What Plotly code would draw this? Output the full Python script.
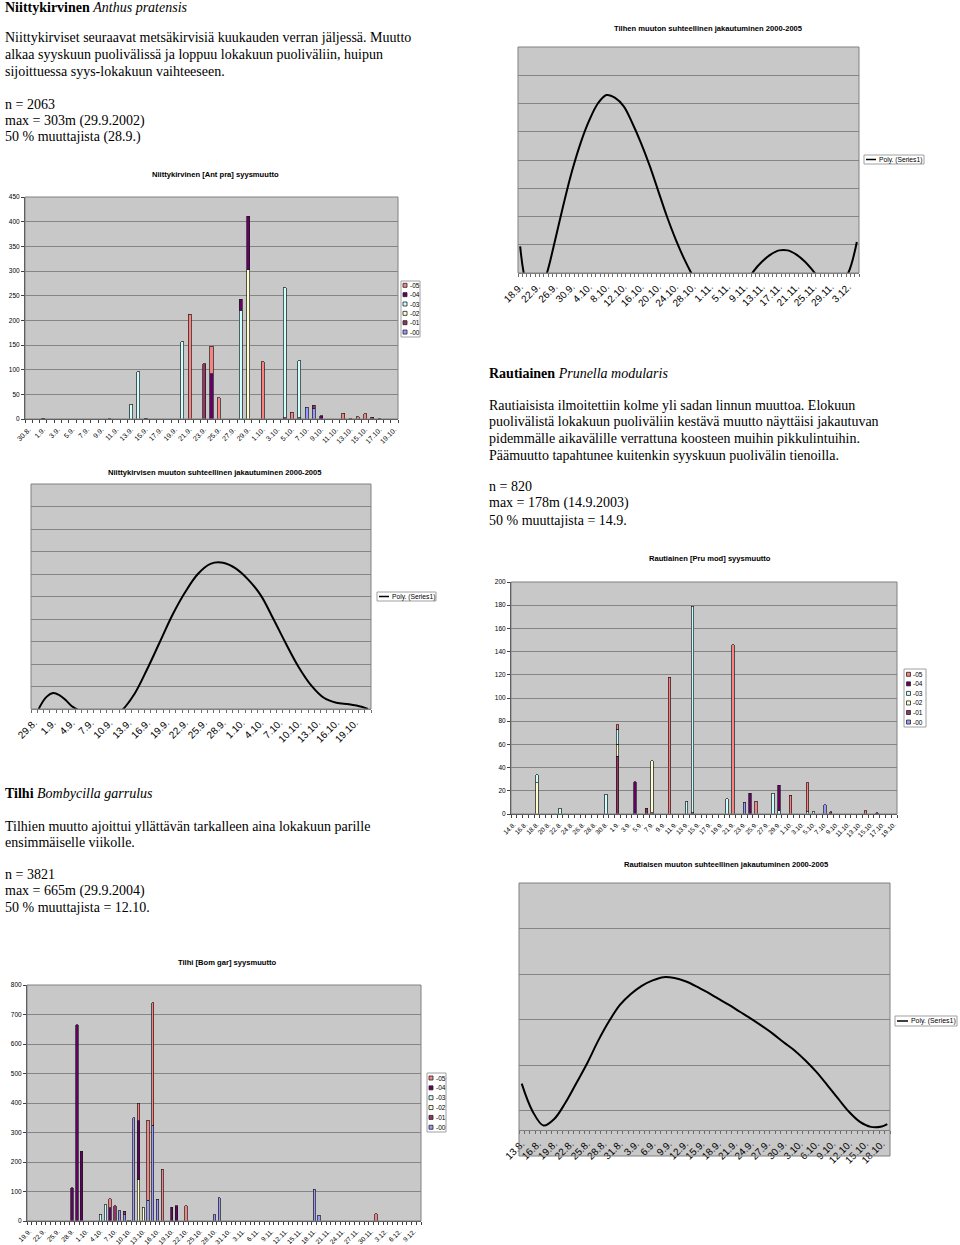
import datetime as dt
import plotly.graph_objects as go

W, H = 960, 1245


def day_labels(day, month, n):
    start = dt.date(2005, month, day)
    out = []
    for i in range(n):
        d = start + dt.timedelta(days=i)
        out.append(f"{d.day}.{d.month}.")
    return out


# ---------------- categories (daily) ----------------
ANT_DAYS = day_labels(30, 8, 51)      # 30.8. - 19.10.
PRU_DAYS = day_labels(14, 8, 67)      # 14.8. - 19.10.
BOM_DAYS = day_labels(19, 9, 83)      # 19.9. - 10.12.
BOM_REL_DAYS = day_labels(18, 9, 79)  # 18.9. - 5.12.
ANT_REL_DAYS = day_labels(29, 8, 54)  # 29.8. - 21.10.
PRU_REL_DAYS = day_labels(13, 8, 68)  # 13.8. - 19.10.

YEARS = ["-00", "-01", "-02", "-03", "-04", "-05"]
YEAR_COLORS = ["#9999FF", "#993366", "#FFFFCC", "#CCFFFF", "#660066", "#FF8080"]

# ---------------- Niittykirvinen [Ant pra] daily counts ----------------
ANT_00 = {"7.10.": 24, "8.10.": 22}
ANT_01 = {"23.9.": 112, "4.10.": 3, "6.10.": 3, "8.10.": 6, "16.10.": 4}
ANT_02 = {"29.9.": 303}
ANT_03 = {"13.9.": 30, "14.9.": 96, "20.9.": 157, "28.9.": 220, "4.10.": 263, "6.10.": 115}
ANT_04 = {"1.9.": 2, "10.9.": 1, "15.9.": 2, "24.9.": 92, "28.9.": 23, "29.9.": 108,
          "9.10.": 7, "13.10.": 1, "17.10.": 1}
ANT_05 = {"21.9.": 212, "24.9.": 55, "25.9.": 43, "1.10.": 116, "5.10.": 14, "12.10.": 12,
          "14.10.": 5, "15.10.": 11}

# ---------------- Rautiainen [Pru mod] daily counts ----------------
PRU_00 = {"23.9.": 10, "7.10.": 8}
PRU_01 = {"1.9.": 50, "6.9.": 5, "7.9.": 1, "14.9.": 1, "8.10.": 2}
PRU_02 = {"18.8.": 27, "1.9.": 10, "7.9.": 45}
PRU_03 = {"18.8.": 7, "22.8.": 5, "30.8.": 17, "1.9.": 13, "13.9.": 11, "14.9.": 178,
          "20.9.": 13, "28.9.": 18, "29.9.": 3, "4.10.": 2, "5.10.": 2}
PRU_04 = {"4.9.": 28, "24.9.": 18, "29.9.": 22, "16.10.": 1}
PRU_05 = {"1.9.": 4, "10.9.": 118, "21.9.": 146, "25.9.": 11, "1.10.": 16, "4.10.": 25,
          "14.10.": 3}

# ---------------- Tilhi [Bom gar] daily counts ----------------
BOM_00 = {"8.10.": 35, "9.10.": 22, "11.10.": 350, "14.10.": 70, "15.10.": 325, "16.10.": 73,
          "28.10.": 22, "29.10.": 78, "18.11.": 107, "19.11.": 20}
BOM_01 = {"7.10.": 52, "9.10.": 11}
BOM_02 = {"12.10.": 140, "13.10.": 47}
BOM_03 = {"4.10.": 23, "5.10.": 55, "10.10.": 2}
BOM_04 = {"28.9.": 113, "29.9.": 665, "30.9.": 237, "6.10.": 45, "12.10.": 200,
          "19.10.": 47, "20.10.": 52}
BOM_05 = {"6.10.": 30, "12.10.": 60, "14.10.": 272, "15.10.": 415, "17.10.": 176,
          "22.10.": 52, "1.12.": 25}

# ---------------- polynomial trend curves ----------------
BOM_REL_X = ["18.9.", "20.9.", "22.9.", "24.9.", "26.9.", "28.9.", "30.9.", "2.10.", "4.10.",
             "6.10.", "8.10.", "10.10.", "12.10.", "14.10.", "16.10.", "18.10.", "20.10.",
             "22.10.", "24.10.", "26.10.", "28.10.", "30.10.", "1.11.", "3.11.", "5.11.",
             "7.11.", "9.11.", "11.11.", "13.11.", "15.11.", "17.11.", "19.11.", "21.11.",
             "23.11.", "25.11.", "27.11.", "29.11.", "1.12.", "3.12.", "5.12."]
BOM_REL_Y = [0.94, -0.6, -0.8, -0.1, 1.1, 2.4, 3.6, 4.6, 5.4, 6.0, 6.3, 6.2, 5.9, 5.3, 4.6,
             3.8, 2.9, 2.0, 1.2, 0.5, -0.1, -0.6, -0.9, -1.1, -1.1, -0.9, -0.5, 0.05, 0.4,
             0.65, 0.8, 0.8, 0.65, 0.4, 0.05, -0.3, -0.5, -0.4, 0.0, 1.1]

ANT_REL_X = ["29.8.", "30.8.", "31.8.", "1.9.", "2.9.", "3.9.", "4.9.", "5.9.", "6.9.", "8.9.",
             "10.9.", "12.9.", "14.9.", "16.9.", "18.9.", "20.9.", "22.9.", "24.9.", "26.9.",
             "28.9.", "30.9.", "2.10.", "4.10.", "6.10.", "8.10.", "10.10.", "12.10.",
             "14.10.", "16.10.", "18.10.", "20.10.", "21.10."]
ANT_REL_Y = [-0.5, 0.15, 0.55, 0.71, 0.62, 0.4, 0.12, -0.05, -0.3, -0.6, -0.5, -0.05, 0.7,
             1.8, 3.0, 4.2, 5.2, 6.0, 6.45, 6.5, 6.25, 5.75, 5.05, 4.0, 2.9, 1.87, 1.05, 0.5,
             0.28, 0.21, 0.1, 0.0]

PRU_REL_X = ["13.8.", "15.8.", "17.8.", "19.8.", "21.8.", "23.8.", "25.8.", "27.8.", "29.8.",
             "31.8.", "2.9.", "4.9.", "6.9.", "8.9.", "10.9.", "12.9.", "14.9.", "16.9.",
             "18.9.", "20.9.", "22.9.", "24.9.", "26.9.", "28.9.", "30.9.", "2.10.", "4.10.",
             "6.10.", "8.10.", "10.10.", "12.10.", "14.10.", "16.10.", "18.10.", "19.10."]
PRU_REL_Y = [0.59, -0.02, -0.33, -0.18, 0.17, 0.6, 1.04, 1.53, 1.96, 2.32, 2.56, 2.74, 2.86,
             2.93, 2.91, 2.84, 2.73, 2.6, 2.46, 2.32, 2.17, 2.02, 1.86, 1.69, 1.5, 1.32, 1.1,
             0.85, 0.56, 0.26, -0.03, -0.25, -0.36, -0.35, -0.3]

# ---------------- texts ----------------
TEXT_ANT = [
    (7, "<b>Niittykirvinen</b> <i>Anthus pratensis</i>"),
    (38, "Niittykirviset seuraavat metsäkirvisiä kuukauden verran jäljessä. Muutto"),
    (55, "alkaa syyskuun puolivälissä ja loppuu lokakuun puoliväliin, huipun"),
    (71, "sijoittuessa syys-lokakuun vaihteeseen."),
    (104, "n = 2063"),
    (121, "max = 303m (29.9.2002)"),
    (137, "50 % muuttajista (28.9.)"),
]
TEXT_PRU = [
    (373, "<b>Rautiainen</b> <i>Prunella modularis</i>"),
    (406, "Rautiaisista ilmoitettiin kolme yli sadan linnun muuttoa. Elokuun"),
    (422, "puolivälistä lokakuun puoliväliin kestävä muutto näyttäisi jakautuvan"),
    (438, "pidemmälle aikavälille verrattuna koosteen muihin pikkulintuihin."),
    (455, "Päämuutto tapahtunee kuitenkin syyskuun puolivälin tienoilla."),
    (487, "n = 820"),
    (503, "max = 178m (14.9.2003)"),
    (520, "50 % muuttajista = 14.9."),
]
TEXT_BOM = [
    (793, "<b>Tilhi</b> <i>Bombycilla garrulus</i>"),
    (826, "Tilhien muutto ajoittui yllättävän tarkalleen aina lokakuun parille"),
    (842, "ensimmäiselle viikolle."),
    (874, "n = 3821"),
    (891, "max = 665m (29.9.2004)"),
    (907, "50 % muuttajista = 12.10."),
]

TITLES = {
    1: ("Niittykirvinen [Ant pra] syysmuutto", 215, 175),
    2: ("Tilhen muuton suhteellinen jakautuminen 2000-2005", 708, 29),
    3: ("Niittykirvisen muuton suhteellinen jakautuminen 2000-2005", 215, 472),
    4: ("Rautiainen [Pru mod] syysmuutto", 710, 559),
    5: ("Rautiaisen muuton suhteellinen jakautuminen 2000-2005", 726, 864),
    6: ("Tilhi [Bom gar] syysmuutto", 227, 962),
}
LEGEND_LINE_TEXT = "Poly. (Series1)"

# ---------------- helpers ----------------
SANS = "Liberation Sans, Arial, sans-serif"
SERIF = "Liberation Serif, Times New Roman, serif"
GRID = "#858585"
BORDER = "#808080"


def fx(p):
    return p / W


def fy(p):
    return 1 - p / H


def ax_names(i):
    return ("x" if i == 1 else f"x{i}", "y" if i == 1 else f"y{i}")


fig = go.Figure()


def add_bars(i, days, series_list, width):
    xa, ya = ax_names(i)
    pos = list(range(len(days)))
    for name, color, series in zip(YEARS, YEAR_COLORS, series_list):
        for k in series:
            assert k in days, k
        vals = [series.get(d) for d in days]
        fig.add_trace(go.Bar(
            x=pos, y=vals, name=name, width=width, xaxis=xa, yaxis=ya, showlegend=False,
            marker=dict(color=color, line=dict(color="#1a1a1a", width=0.7)),
        ))


def add_curve(i, days, labels, values):
    xa, ya = ax_names(i)
    pos = [days.index(l) for l in labels]
    fig.add_trace(go.Scatter(
        x=pos, y=values, mode="lines", xaxis=xa, yaxis=ya, showlegend=False,
        line=dict(color="black", width=2, shape="spline", smoothing=1.0),
    ))


add_bars(1, ANT_DAYS, [ANT_00, ANT_01, ANT_02, ANT_03, ANT_04, ANT_05], 0.42)
add_curve(2, BOM_REL_DAYS, BOM_REL_X, BOM_REL_Y)
add_curve(3, ANT_REL_DAYS, ANT_REL_X, ANT_REL_Y)
add_bars(4, PRU_DAYS, [PRU_00, PRU_01, PRU_02, PRU_03, PRU_04, PRU_05], 0.42)
add_curve(5, PRU_REL_DAYS, PRU_REL_X, PRU_REL_Y)
add_bars(6, BOM_DAYS, [BOM_00, BOM_01, BOM_02, BOM_03, BOM_04, BOM_05], 0.5)

# panel geometry in pixels: (left, right, top, bottom)
PANELS = {
    1: (25, 398, 197, 419),
    2: (518, 859, 47, 273),
    3: (31, 371, 484, 709),
    4: (511, 897, 582, 814),
    5: (519, 890, 883, 1156),
    6: (27, 421, 985, 1221),
}
# x label step, font size, y range, y dtick, show y labels
AXCFG = {
    1: (ANT_DAYS, 2, 7.0, [0, 450], 50, True),
    2: (BOM_REL_DAYS, 4, 10, [0, 8], 1, False),
    3: (ANT_REL_DAYS, 3, 10, [0, 10], 1, False),
    4: (PRU_DAYS, 2, 6.5, [0, 200], 20, True),
    5: (PRU_REL_DAYS, 3, 10, [-1, 5], 1, False),
    6: (BOM_DAYS, 3, 6.6, [0, 800], 100, True),
}

layout = {}
shapes = []
for i, (l, r, t, b) in PANELS.items():
    days, step, fsize, yr, ydt, ylab = AXCFG[i]
    n = len(days)
    xa, ya = ax_names(i)
    xkey = "xaxis" if i == 1 else f"xaxis{i}"
    ykey = "yaxis" if i == 1 else f"yaxis{i}"
    xd = dict(
        domain=[fx(l), fx(r)], range=[-0.5, n - 0.5], anchor=ya,
        tickmode="array", tickvals=list(range(0, n, step)), ticktext=days[::step],
        tickangle=-45, tickfont=dict(family=SANS, size=fsize, color="black"),
        ticks="", ticklabelstandoff=3, showgrid=False, zeroline=False,
        showline=True, linecolor="#404040" if ylab else BORDER, linewidth=1,
        minor=dict(tickmode="array", tickvals=[k - 0.5 for k in range(n + 1)],
                   ticks="outside", ticklen=3, tickwidth=1,
                   tickcolor="#404040" if ylab else "#6a6a6a", showgrid=False),
        fixedrange=True,
    )
    if i == 5:
        xd["anchor"] = "free"
        xd["position"] = fy(1130)
    yd = dict(
        domain=[fy(b), fy(t)], range=yr, dtick=ydt, tick0=0, anchor=xa,
        showgrid=True, gridcolor=GRID, gridwidth=1, zeroline=False,
        showticklabels=ylab, tickfont=dict(family=SANS, size=6.5, color="black"),
        ticks="outside" if ylab else "", ticklen=3, tickcolor="#404040",
        showline=ylab, linecolor="#404040", linewidth=1, fixedrange=True,
    )
    layout[xkey] = xd
    layout[ykey] = yd
    shapes.append(dict(type="rect", xref="paper", yref="paper",
                       x0=fx(l), x1=fx(r), y0=fy(b), y1=fy(t),
                       line=dict(color=BORDER, width=1), fillcolor="rgba(0,0,0,0)",
                       layer="above"))

annotations = []

# chart titles
for i, (txt, cx, cy) in TITLES.items():
    annotations.append(dict(text=f"<b>{txt}</b>", x=fx(cx), y=fy(cy), xref="paper",
                            yref="paper", xanchor="center", yanchor="middle",
                            showarrow=False, font=dict(family=SANS, size=7.6, color="black")))

# body texts
for block, x0 in ((TEXT_ANT, 3), (TEXT_PRU, 487), (TEXT_BOM, 3)):
    for yc, txt in block:
        annotations.append(dict(text=txt, x=fx(x0), y=fy(yc), xref="paper", yref="paper",
                                xanchor="left", yanchor="middle", showarrow=False,
                                font=dict(family=SERIF, size=14, color="black")))


# bar-chart legends (box, swatches, labels)
def bar_legend(box, first_y, dy, sw_x, txt_x):
    x0, x1, y0, y1 = box
    shapes.append(dict(type="rect", xref="paper", yref="paper", x0=fx(x0), x1=fx(x1),
                       y0=fy(y1), y1=fy(y0), line=dict(color="#a0a0a0", width=1),
                       fillcolor="white", layer="above"))
    for k, (name, color) in enumerate(zip(YEARS[::-1], YEAR_COLORS[::-1])):
        yc = first_y + k * dy
        shapes.append(dict(type="rect", xref="paper", yref="paper",
                           x0=fx(sw_x - 2), x1=fx(sw_x + 2), y0=fy(yc + 2), y1=fy(yc - 2),
                           line=dict(color="#222222", width=0.8), fillcolor=color,
                           layer="above"))
        annotations.append(dict(text=name, x=fx(txt_x), y=fy(yc), xref="paper", yref="paper",
                                xanchor="left", yanchor="middle", showarrow=False,
                                font=dict(family=SANS, size=6.5, color="black")))


bar_legend((401, 420, 281, 337), 285.3, 9.35, 405, 407.5)
bar_legend((904, 926, 669, 727), 674.3, 9.55, 908.5, 911)
bar_legend((427, 446, 1073, 1132), 1078, 9.85, 431, 433.5)


def line_legend(box, line_x0, line_x1, txt_x, fsize):
    x0, x1, y0, y1 = box
    yc = (y0 + y1) / 2
    shapes.append(dict(type="rect", xref="paper", yref="paper", x0=fx(x0), x1=fx(x1),
                       y0=fy(y1), y1=fy(y0), line=dict(color="#a0a0a0", width=1),
                       fillcolor="white", layer="above"))
    shapes.append(dict(type="line", xref="paper", yref="paper", x0=fx(line_x0),
                       x1=fx(line_x1), y0=fy(yc), y1=fy(yc),
                       line=dict(color="black", width=1.5), layer="above"))
    annotations.append(dict(text=LEGEND_LINE_TEXT, x=fx(txt_x), y=fy(yc), xref="paper",
                            yref="paper", xanchor="left", yanchor="middle", showarrow=False,
                            font=dict(family=SANS, size=fsize, color="black")))


line_legend((864, 924, 155, 164), 866, 876, 877, 6.7)
line_legend((377, 436, 592, 601), 379, 389, 390, 6.7)
line_legend((895, 957, 1016, 1026), 897, 908, 909, 6.9)

fig.update_layout(
    template="none",
    width=W, height=H, margin=dict(l=0, r=0, t=0, b=0, pad=0),
    paper_bgcolor="white", plot_bgcolor="#C8C8C8",
    barmode="stack", bargap=0.58, showlegend=False,
    font=dict(family=SANS, size=8, color="black"),
    shapes=shapes, annotations=annotations,
    **layout,
)

fig.write_html("out.html", config={"displayModeBar": False},
               post_script="document.body.style.margin='0';")
